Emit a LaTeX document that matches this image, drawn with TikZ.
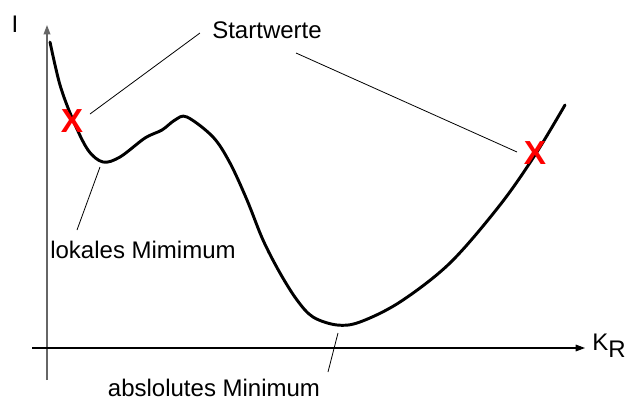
\documentclass[tikz,border=0pt]{standalone}
\usepackage{fontspec}
\setmainfont{Liberation Sans}
\usetikzlibrary{arrows.meta}
\begin{document}
\begin{tikzpicture}[x=0.75pt, y=-0.75pt,
  every node/.style={font=\fontsize{18}{20}\selectfont, inner sep=0pt},
  lead/.style={line width=0.6pt},
  kreuz/.style={text=red, font=\fontsize{25}{27}\selectfont\bfseries}]
\useasboundingbox (0,0) rectangle (626,400);
% Achsen
\draw[black!60, line width=1.1pt, -{Triangle[length=7pt,width=5pt]}] (47,380) -- (47,25);
\draw[line width=0.8pt, -{Triangle[length=7pt,width=5pt]}] (32,348) -- (585,348);
\node (ylab) at (15,24) {I};
\node[anchor=west] (xlab) at (592,346) {K\raisebox{-5pt}{R}};
% Kurve
\draw[line width=2.2pt, line cap=round] plot[smooth, tension=0.55] coordinates {
  (50,42) (60,85) (73,120) (88,150) (103,162) (120,157) (145,138) (162,130)
  (175,120) (187,117) (213,137) (230,163) (247,200) (263,240) (280,273)
  (297,300) (313,317) (337,325) (360,322) (400,302) (450,263) (500,205)
  (535,155) (565,105)};
% Startwerte
\node[kreuz] (x1) at (72,121) {X};
\node[kreuz] (x2) at (535,153) {X};
\node (start) at (267,30) {Startwerte};
\coordinate (s1) at (200,33);
\coordinate (s2) at (296,53);
\coordinate (e1) at (90,114);
\coordinate (e2) at (517,152);
\draw[lead] (s1) -- (e1);
\draw[lead] (s2) -- (e2);
% Minima
\node (lokal) at (143,250) {lokales Mimimum};
\node (absolut) at (214,388) {abslolutes Minimum};
\coordinate (l1) at (100,167);
\coordinate (l2) at (77,230);
\coordinate (a1) at (338,333);
\coordinate (a2) at (328,372);
\draw[lead] (l1) -- (l2);
\draw[lead] (a1) -- (a2);
\end{tikzpicture}
\end{document}
